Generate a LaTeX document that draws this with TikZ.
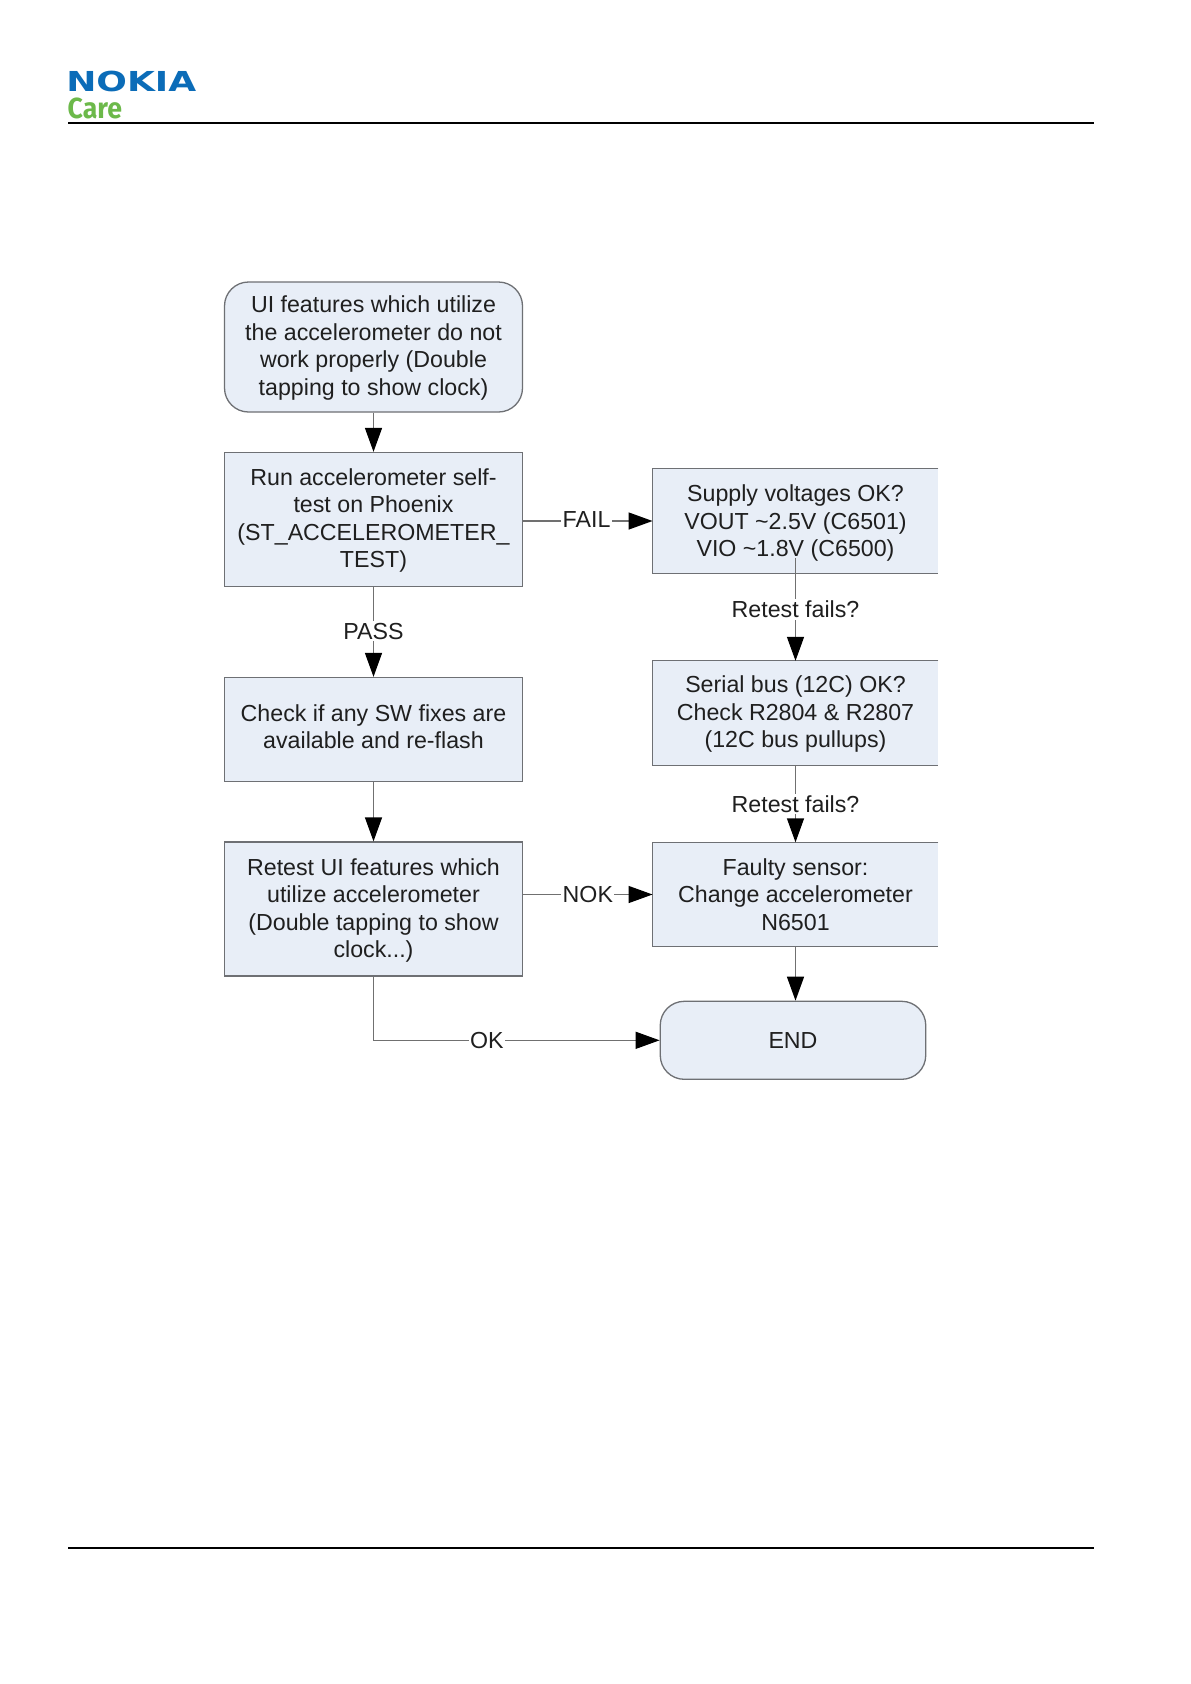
\documentclass[tikz,border=0pt]{standalone}
\usepackage{fontspec}
\setmainfont{Liberation Sans}
\newfontfamily\carefont{Fira Sans}
\newfontfamily\nokiafont{DejaVu Sans}
\usetikzlibrary{arrows.meta,calc}
\definecolor{boxfill}{HTML}{E8EEF7}
\definecolor{boxline}{HTML}{6E7074}
\definecolor{conline}{HTML}{707070}
\definecolor{nokiablue}{HTML}{0B6CB8}
\definecolor{caregreen}{HTML}{6CB94A}
\newcommand\dnrule[1]{\rule{0pt}{#1}}
\tikzset{
  x=1pt,y=-1pt,
  base/.style={align=center,fill=boxfill,inner sep=0pt,font=\fontsize{23.2}{27.5}\selectfont,text=black!88},
  plainbox/.style={base,draw=boxline,line width=1.3pt},
  termbox/.style={plainbox,rounded corners=24pt},
  openbox/.style={base},
  outline/.style={draw=boxline,line width=1.3pt},
  conn/.style={draw=conline,line width=1.4pt},
  arrowconn/.style={conn,-{Triangle[length=24pt,width=17pt,fill=black,color=black]}},
  lab/.style={fill=white,inner sep=1.5pt,font=\fontsize{23.2}{27.5}\selectfont,text=black!88},
  rule/.style={draw=black,line width=2pt},
}
\begin{document}
\begin{tikzpicture}
\useasboundingbox (0,0) rectangle (1191,1684);
\fill[white] (0,0) rectangle (1191,1684);
% header and footer
\coordinate (hl) at (68,123); \coordinate (hr) at (1094,123);
\coordinate (fl) at (68,1548); \coordinate (fr) at (1094,1548);
\draw[rule] (hl) -- (hr);
\draw[rule] (fl) -- (fr);
\node[anchor=west,inner sep=0pt,text=nokiablue,font=\nokiafont\fontsize{27.5}{27.5}\bfseries\selectfont,xscale=1.31] (nokia) at (66,81) {NOKIA};
\node[anchor=west,inner sep=0pt,text=caregreen,font=\carefont\fontsize{29}{29}\bfseries\selectfont,xscale=0.92] (care) at (67.5,108) {Care};
% left column
\node[termbox,minimum width=298pt,minimum height=130pt] (start) at (373.5,347) {\dnrule{18.5pt}UI features which utilize\\the accelerometer do not\\work properly (Double\\tapping to show clock)};
\node[plainbox,minimum width=298pt,minimum height=134pt] (run) at (373.5,519.5) {\dnrule{19pt}Run accelerometer self-\\test on Phoenix\\(ST\_ACCELEROMETER\_\\TEST)};
\node[plainbox,minimum width=298pt,minimum height=104pt] (check) at (373.5,729.5) {Check if any SW fixes are\\available and re-flash\rule[-6pt]{0pt}{6pt}};
\node[plainbox,minimum width=298pt,minimum height=134pt] (retest) at (373.5,909) {\dnrule{20pt}Retest UI features which\\utilize accelerometer\\(Double tapping to show\\clock...)};
% right column
\node[openbox,minimum width=285.5pt,minimum height=104pt] (supply) at (795.5,521) {\dnrule{21pt}Supply voltages OK?\\VOUT \textasciitilde2.5V (C6501)\\VIO \textasciitilde1.8V (C6500)};
\node[openbox,minimum width=285.5pt,minimum height=104pt] (serial) at (795.5,713) {\dnrule{19pt}Serial bus (12C) OK?\\Check R2804 \& R2807\\(12C bus pullups)};
\node[openbox,minimum width=285.5pt,minimum height=104pt] (faulty) at (795.5,894.5) {Faulty sensor:\\Change accelerometer\\N6501};
\foreach \b in {supply,serial,faulty}
  \draw[outline] (\b.north east) -- (\b.north west) -- (\b.south west) -- (\b.south east);
\node[termbox,minimum width=265.5pt,minimum height=78pt] (end) at (793,1040.3) {END};
% connectors
\draw[arrowconn] (start) -- (run);
\draw[arrowconn] (run) -- node[lab,pos=0.49]{PASS} (check);
\draw[arrowconn] (check) -- (retest);
\draw[arrowconn] (run.east |- supply.west) -- node[lab,pos=0.49,yshift=1pt]{FAIL} (supply.west);
\coordinate (supplyin) at ($(supply.south)+(0,-15)$);
\draw[arrowconn] (supplyin) -- node[lab,pos=0.5]{Retest fails?} (serial.north);
\draw[arrowconn] (serial.south) -- node[lab,pos=0.5]{Retest fails?} (faulty.north);
\draw[arrowconn] (retest.east |- faulty.west) -- node[lab,pos=0.5]{NOK} (faulty.west);
\draw[arrowconn] (faulty.south) -- (faulty.south |- end.north);
\draw[arrowconn] (retest.south) |- node[lab,pos=0.698]{OK} (end.west);
\end{tikzpicture}
\end{document}
